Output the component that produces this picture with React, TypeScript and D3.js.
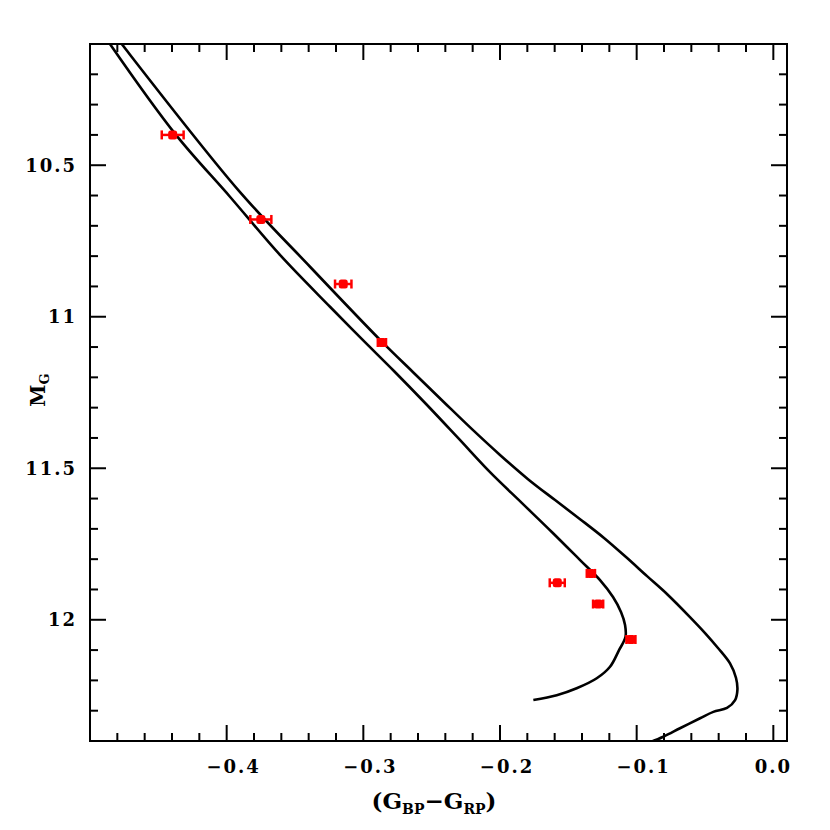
import React from "react";
import * as d3 from "d3";

// Cooling sequence A (left track): colour (G_BP-G_RP) and M_G
const seqAColor = [-0.4898, -0.4854, -0.4371, -0.3976, -0.3610, -0.3244, -0.3010, -0.2776, -0.2541, -0.2307, -0.2073, -0.1839, -0.1619, -0.1414, -0.1268, -0.1173, -0.1114, -0.1085, -0.1082, -0.1129, -0.1195, -0.1292, -0.1439, -0.1585, -0.1756];
const seqAMag = [10.070, 10.100, 10.400, 10.604, 10.796, 10.967, 11.074, 11.179, 11.288, 11.400, 11.513, 11.615, 11.711, 11.803, 11.869, 11.925, 11.975, 12.017, 12.057, 12.100, 12.155, 12.193, 12.226, 12.249, 12.265];

// Cooling sequence B (right track)
const seqBColor = [-0.4824, -0.4768, -0.3915, -0.3390, -0.2863, -0.2636, -0.2410, -0.2205, -0.2000, -0.1795, -0.1597, -0.1414, -0.1239, -0.1078, -0.0924, -0.0771, -0.0610, -0.0493, -0.0405, -0.0317, -0.0273, -0.0263, -0.0280, -0.0339, -0.0439, -0.0536, -0.0683, -0.0805, -0.0975];
const seqBMag = [10.067, 10.100, 10.582, 10.835, 11.083, 11.183, 11.282, 11.371, 11.456, 11.536, 11.605, 11.668, 11.730, 11.793, 11.856, 11.918, 11.991, 12.047, 12.093, 12.144, 12.192, 12.232, 12.265, 12.291, 12.304, 12.325, 12.358, 12.386, 12.417];

// Observed stars
const starColor = [-0.4395, -0.3750, -0.3147, -0.2864, -0.1581, -0.1335, -0.1282, -0.1042];
const starMag = [10.400, 10.679, 10.892, 11.085, 11.878, 11.847, 11.948, 12.065];
const starColorErr = [0.0080, 0.0077, 0.0060, 0.0030, 0.0055, 0.0030, 0.0037, 0.0033];

// Axis ticks
const xMajorTicks = [-0.4, -0.3, -0.2, -0.1, 0.0];
const xTickLabels = ["\u22120.4", "\u22120.3", "\u22120.2", "\u22120.1", "0.0"];
const yMajorTicks = [10.5, 11, 11.5, 12];
const yTickLabels = ["10.5", "11", "11.5", "12"];

const W = 830;
const H = 830;
const L = 90, R = 787, T = 44, B = 741;

export default function App() {
  const x = d3.scaleLinear().domain([-0.5, 0.01]).range([L, R]);
  const y = d3.scaleLinear().domain([10.1, 12.4]).range([T, B]);

  const line = d3
    .line<[number, number]>()
    .x((d) => x(d[0]))
    .y((d) => y(d[1]))
    .curve(d3.curveCatmullRom.alpha(0.5));

  const seqA: [number, number][] = seqAColor.map((c, i) => [c, seqAMag[i]]);
  const seqB: [number, number][] = seqBColor.map((c, i) => [c, seqBMag[i]]);

  const xMinor = d3.range(-0.5, 0.0101, 0.02).map((v) => +v.toFixed(3));
  const yMinor = d3.range(10.1, 12.401, 0.1).map((v) => +v.toFixed(2));
  const isXMajor = (v: number) => xMajorTicks.some((m) => Math.abs(m - v) < 1e-6);
  const isYMajor = (v: number) => yMajorTicks.some((m) => Math.abs(m - v) < 1e-6);

  const maj = 16, mnr = 8;
  const font = "'DejaVu Serif', serif";

  return (
    <svg width={W} height={H} style={{ position: "absolute", left: 0, top: 0, background: "#fff" }}>
      <defs>
        <clipPath id="plotclip">
          <rect x={L} y={T} width={R - L} height={B - T} />
        </clipPath>
      </defs>
      <rect x={0} y={0} width={W} height={H} fill="#fff" />

      {/* curves */}
      <g clipPath="url(#plotclip)" fill="none" stroke="#000" strokeWidth={2.6} strokeLinejoin="round">
        <path d={line(seqA) || ""} />
        <path d={line(seqB) || ""} />
      </g>

      {/* stars */}
      <g fill="#ff0000" stroke="#ff0000">
        {starColor.map((c, i) => {
          const cx = x(c);
          const cy = y(starMag[i]);
          const x0 = x(c - starColorErr[i]);
          const x1 = x(c + starColorErr[i]);
          return (
            <g key={i}>
              <line x1={x0} x2={x1} y1={cy} y2={cy} strokeWidth={2.5} />
              <line x1={x0} x2={x0} y1={cy - 4.5} y2={cy + 4.5} strokeWidth={2.5} />
              <line x1={x1} x2={x1} y1={cy - 4.5} y2={cy + 4.5} strokeWidth={2.5} />
              <rect x={cx - 4.5} y={cy - 4.5} width={9} height={9} rx={2.5} stroke="none" />
            </g>
          );
        })}
      </g>

      {/* ticks */}
      <g stroke="#000" strokeWidth={2}>
        {xMinor.map((v, i) => {
          const len = isXMajor(v) ? maj : mnr;
          const px = x(v);
          return (
            <g key={"xt" + i}>
              <line x1={px} x2={px} y1={B} y2={B - len} />
              <line x1={px} x2={px} y1={T} y2={T + len} />
            </g>
          );
        })}
        {yMinor.map((v, i) => {
          const len = isYMajor(v) ? maj : mnr;
          const py = y(v);
          return (
            <g key={"yt" + i}>
              <line x1={L} x2={L + len} y1={py} y2={py} />
              <line x1={R} x2={R - len} y1={py} y2={py} />
            </g>
          );
        })}
      </g>

      {/* frame */}
      <rect x={L} y={T} width={R - L} height={B - T} fill="none" stroke="#000" strokeWidth={2} />

      {/* tick labels */}
      <g fontFamily={font} fontWeight="bold" fontSize={18} fill="#000">
        {xMajorTicks.map((v, i) => (
          <text key={"xl" + i} x={x(v) + (v < 0 ? 7 : 0)} y={773} textAnchor="middle" letterSpacing={2}>
            {xTickLabels[i]}
          </text>
        ))}
        {yMajorTicks.map((v, i) => (
          <text key={"yl" + i} x={77} y={y(v) + 6.5} textAnchor="end" letterSpacing={2}>
            {yTickLabels[i]}
          </text>
        ))}
      </g>

      {/* axis titles */}
      <text x={434} y={809} textAnchor="middle" fontFamily={font} fontWeight="bold" fontSize={23} fill="#000">
        (G<tspan fontSize={14} dy={5}>BP</tspan>
        <tspan dy={-5}>{"\u2212"}G</tspan>
        <tspan fontSize={14} dy={5}>RP</tspan>
        <tspan dy={-5}>)</tspan>
      </text>
      <text
        transform="translate(45,390) rotate(-90)"
        textAnchor="middle"
        fontFamily={font}
        fontWeight="bold"
        fontSize={20}
        fill="#000"
      >
        M<tspan fontSize={13} dy={4}>G</tspan>
      </text>
    </svg>
  );
}
